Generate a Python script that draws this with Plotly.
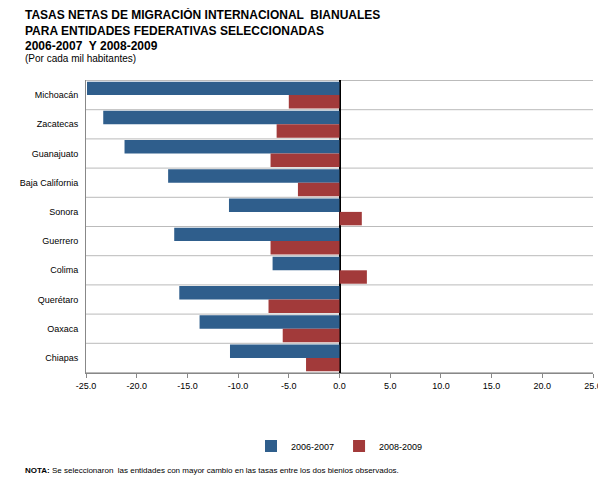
import plotly.graph_objects as go

estados = ["Michoacán", "Zacatecas", "Guanajuato", "Baja California", "Sonora",
           "Guerrero", "Colima", "Querétaro", "Oaxaca", "Chiapas"]
tasa_2006_2007 = [-24.9, -23.3, -21.2, -16.9, -10.9, -16.3, -6.6, -15.8, -13.8, -10.8]
tasa_2008_2009 = [-5.0, -6.2, -6.8, -4.1, 2.2, -6.8, 2.7, -7.0, -5.6, -3.3]
ticks = [-25, -20, -15, -10, -5, 0, 5, 10, 15, 20, 25]

fig = go.Figure()
fig.add_trace(go.Bar(y=estados, x=tasa_2006_2007, name="2006-2007", orientation="h",
                     marker=dict(color="#2F5E8C", line=dict(width=0))))
fig.add_trace(go.Bar(y=estados, x=tasa_2008_2009, name="2008-2009", orientation="h",
                     marker=dict(color="#A23A3A", line=dict(width=0))))

fig.update_layout(
    width=606, height=485, plot_bgcolor="white", paper_bgcolor="white",
    barmode="group", bargap=0.08, bargroupgap=0.0,
    margin=dict(l=75, r=12, t=72, b=120),
    font=dict(family="Liberation Sans, Arial", size=9, color="black"),
    showlegend=True,
    legend=dict(orientation="h", x=0.5, xanchor="center", y=-0.2, yanchor="top",
                font=dict(size=9), traceorder="normal"),
    xaxis=dict(range=[-25, 25], tickvals=ticks, ticktext=[f"{t:.1f}" for t in ticks],
               showgrid=False, zeroline=True, zerolinecolor="black", zerolinewidth=1.5,
               showline=True, linecolor="#888", ticks="outside", tickcolor="#888", ticklen=4),
    yaxis=dict(autorange="reversed", showgrid=False, showline=True, linecolor="#888",
               ticks="", ticksuffix="  ", tickfont=dict(size=9)),
)
# líneas separadoras entre categorías
for i in range(len(estados) + 1):
    fig.add_shape(type="line", xref="paper", x0=0, x1=1, yref="y", y0=i - 0.5, y1=i - 0.5,
                  line=dict(color="#BBBBBB", width=1), layer="below")

fig.add_annotation(xref="paper", yref="paper", x=-0.125, y=1.255, xanchor="left", yanchor="top",
                   align="left", showarrow=False,
                   text="<b>TASAS NETAS DE MIGRACIÓN INTERNACIONAL  BIANUALES<br>"
                        "PARA ENTIDADES FEDERATIVAS SELECCIONADAS<br>2006-2007  Y 2008-2009</b>",
                   font=dict(size=12, family="Liberation Sans Narrow, Arial Narrow, Arial"))
fig.add_annotation(xref="paper", yref="paper", x=-0.125, y=1.1, xanchor="left", yanchor="top",
                   showarrow=False, text="(Por cada mil habitantes)", font=dict(size=10))
fig.add_annotation(xref="paper", yref="paper", x=-0.125, y=-0.31, xanchor="left", yanchor="top",
                   showarrow=False, font=dict(size=8),
                   text="<b>NOTA:</b> Se seleccionaron  las entidades con mayor cambio en las tasas entre los dos bienios observados.")
fig.add_annotation(xref="paper", yref="paper", x=-0.125, y=-0.385, xanchor="left", yanchor="top",
                   showarrow=False, font=dict(size=8),
                   text="<b>FUENTE: INEGI.</b> Estimaciones con base en la Encuesta Nacional de Ocupación y Empleo, 2006-2010 Bases de datos.")

fig.write_html("out.html")
